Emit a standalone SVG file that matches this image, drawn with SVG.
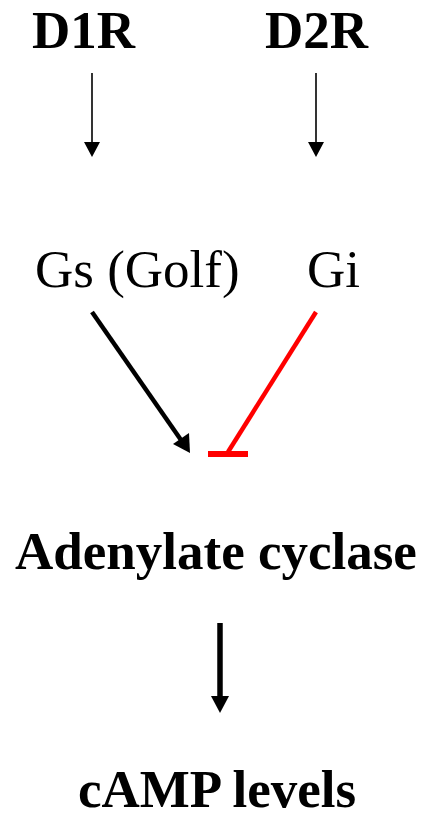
<svg xmlns="http://www.w3.org/2000/svg" width="427" height="819" viewBox="0 0 427 819">
<style>
text{font-family:"Liberation Serif","Times New Roman",serif;fill:#000}
.b{font-weight:bold;font-size:53px}
.r{font-size:53px}
</style>
<rect width="427" height="819" fill="#fff"/>
<g id="connectors">
<line x1="92" y1="73" x2="92" y2="143" stroke="#000" stroke-width="1.6"/>
<polygon points="84,142 100,142 92,157" fill="#000"/>
<line x1="316" y1="73" x2="316" y2="143" stroke="#000" stroke-width="1.6"/>
<polygon points="308,142 324,142 316,157" fill="#000"/>
<line x1="92" y1="312" x2="181" y2="440" stroke="#000" stroke-width="4.5"/>
<polygon points="173,444 189,433 190,453" fill="#000"/>
<line x1="316" y1="312" x2="228" y2="452" stroke="#f00" stroke-width="4.5"/>
<line x1="208" y1="454" x2="248" y2="454" stroke="#f00" stroke-width="6"/>
<line x1="220" y1="623" x2="220" y2="698" stroke="#000" stroke-width="5.5"/>
<polygon points="211,696 229,696 220,713" fill="#000"/>
</g>
<g id="D1R"><text class="b" x="32" y="48">D1R</text></g>
<g id="D2R"><text class="b" x="265" y="48">D2R</text></g>
<g id="Gs"><text class="r" x="35" y="287">Gs (Golf)</text></g>
<g id="Gi"><text class="r" x="307" y="287">Gi</text></g>
<g id="AC"><text class="b" x="15" y="569">Adenylate cyclase</text></g>
<g id="cAMP"><text class="b" x="78" y="807">cAMP levels</text></g>
</svg>
